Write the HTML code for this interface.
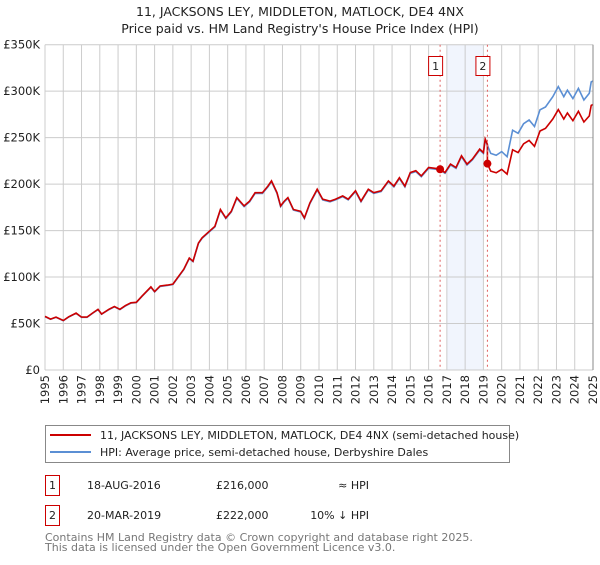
<!DOCTYPE html>
<html><head><meta charset="utf-8"><style>
body{margin:0;background:#fff;font-family:"Liberation Sans","DejaVu Sans",sans-serif;}
svg text{font-family:"DejaVu Sans","Liberation Sans",sans-serif;}
</style></head><body>
<svg id="chart" width="600" height="560" viewBox="0 0 600 560" xmlns="http://www.w3.org/2000/svg">
<text x="300" y="16" text-anchor="middle" font-size="12.5" fill="#222">11, JACKSONS LEY, MIDDLETON, MATLOCK, DE4 4NX</text>
<text x="300" y="33" text-anchor="middle" font-size="12.5" fill="#222">Price paid vs. HM Land Registry's House Price Index (HPI)</text>
<g id="grid"></g>
<g id="series"></g>
<g id="axes"></g>
<rect x="45.5" y="425.5" width="464" height="37" fill="#fff" stroke="#888"/>
<line x1="50" y1="435" x2="91" y2="435" stroke="#cc0000" stroke-width="2"/>
<text x="100" y="439" font-size="11" fill="#222">11, JACKSONS LEY, MIDDLETON, MATLOCK, DE4 4NX (semi-detached house)</text>
<line x1="50" y1="452" x2="91" y2="452" stroke="#5b8fd4" stroke-width="2"/>
<text x="100" y="456" font-size="11" fill="#222">HPI: Average price, semi-detached house, Derbyshire Dales</text>
<g>
<rect x="45.5" y="475.5" width="14" height="20" fill="#fff" stroke="#cc0000"/>
<text x="52.5" y="489" text-anchor="middle" font-size="11" fill="#222">1</text>
<text x="87" y="489" font-size="11" fill="#222">18-AUG-2016</text>
<text x="216" y="489" font-size="11" fill="#222">£216,000</text>
<text x="369" y="489" text-anchor="end" font-size="11" fill="#222">≈ HPI</text>
</g>
<g>
<rect x="45.5" y="505.5" width="14" height="20" fill="#fff" stroke="#cc0000"/>
<text x="52.5" y="519" text-anchor="middle" font-size="11" fill="#222">2</text>
<text x="87" y="519" font-size="11" fill="#222">20-MAR-2019</text>
<text x="216" y="519" font-size="11" fill="#222">£222,000</text>
<text x="369" y="519" text-anchor="end" font-size="11" fill="#222">10% ↓ HPI</text>
</g>
<text x="45" y="541" font-size="11" fill="#777">Contains HM Land Registry data © Crown copyright and database right 2025.</text>
<text x="45" y="551" font-size="11" fill="#777">This data is licensed under the Open Government Licence v3.0.</text>
</svg>
<script>
const hpiYears=[1995.0,1995.3,1995.6,1996.0,1996.3,1996.7,1997.0,1997.3,1997.6,1997.9,1998.1,1998.5,1998.8,1999.1,1999.4,1999.7,2000.0,2000.3,2000.8,2001.0,2001.3,2001.7,2002.0,2002.3,2002.6,2002.9,2003.1,2003.4,2003.6,2003.9,2004.3,2004.6,2004.9,2005.2,2005.5,2005.9,2006.2,2006.5,2006.9,2007.2,2007.4,2007.7,2007.9,2008.1,2008.3,2008.6,2009.0,2009.2,2009.5,2009.9,2010.2,2010.6,2010.9,2011.3,2011.6,2012.0,2012.3,2012.7,2013.0,2013.4,2013.8,2014.1,2014.4,2014.7,2015.0,2015.3,2015.6,2016.0,2016.6,2016.9,2017.2,2017.5,2017.8,2018.1,2018.4,2018.8,2019.0,2019.1,2019.4,2019.7,2020.0,2020.3,2020.6,2020.9,2021.2,2021.5,2021.8,2022.1,2022.4,2022.8,2023.1,2023.4,2023.6,2023.9,2024.2,2024.5,2024.8,2024.9,2025.0];
const hpiValues=[57400,54500,56700,53000,57000,61000,56700,56700,61000,65000,60000,65000,68000,65000,69000,72000,72500,79000,89000,84000,90000,91000,92000,100000,108000,120000,116600,136000,141700,147000,154000,172000,163000,170000,184700,175800,181000,190000,190000,197000,202600,190000,175800,181000,184700,172000,170000,163000,179000,193700,183000,181000,183000,186500,183000,192000,181000,193700,190000,192000,202600,197000,206000,197000,211600,213500,208000,217000,215500,211600,220600,217000,229500,220600,226000,236700,233000,247500,233000,231000,235000,229500,258000,254700,265000,269000,262000,280000,283000,294000,305000,294000,301000,292000,303000,290500,297700,310000,311000];
const saleYears=[2016.63,2019.22];
const salePrices=[216000,222000];
const yTicks=[0,50000,100000,150000,200000,250000,300000,350000];
const yTickLabels=["£0","£50K","£100K","£150K","£200K","£250K","£300K","£350K"];
const xTicks=[1995,1996,1997,1998,1999,2000,2001,2002,2003,2004,2005,2006,2007,2008,2009,2010,2011,2012,2013,2014,2015,2016,2017,2018,2019,2020,2021,2022,2023,2024,2025];

const NS="http://www.w3.org/2000/svg";
const X0=45,X1=593,Y0=370,Y1=44.7;
const xs=t=>X0+(t-1995)/30*(X1-X0);
const ys=v=>Y0-v/350000*(Y0-Y1);
function mk(tag,attrs,parent){const e=document.createElementNS(NS,tag);for(const k in attrs)e.setAttribute(k,attrs[k]);parent.appendChild(e);return e;}
const grid=document.getElementById('grid'),series=document.getElementById('series'),axes=document.getElementById('axes');
const band=mk('rect',{x:xs(2017),y:Y1,width:xs(2019)-xs(2017),height:Y0-Y1,fill:'#eef3fd',opacity:0.8},grid);


yTicks.forEach((v,i)=>{
 const l=mk('line',{x1:X0,x2:X1,y1:ys(v),y2:ys(v),stroke:'#cccccc','stroke-width':1},grid);
 
 
 const t=mk('text',{x:40,y:ys(v)+4,'text-anchor':'end','font-size':11.5,fill:'#222'},axes);
 t.textContent=yTickLabels[i];
 
 
});
xTicks.forEach(yr=>{
 const l=mk('line',{x1:xs(yr),x2:xs(yr),y1:Y1,y2:Y0,stroke:'#cccccc','stroke-width':1},grid);
 
 
 const t=mk('text',{x:0,y:0,'text-anchor':'end','font-size':11.5,fill:'#222',transform:`translate(${xs(yr)+4},375) rotate(-90)`},axes);
 t.textContent=yr;
 
 
});
const rAx=mk('line',{x1:X1,x2:X1,y1:Y1,y2:Y0,stroke:'#888','stroke-width':1},axes);


const hp=hpiYears.map((t,i)=>`${i?'L':'M'}${xs(t).toFixed(1)},${ys(hpiValues[i]).toFixed(1)}`).join('');
const hl=mk('path',{d:hp,fill:'none',stroke:'#5b8fd4','stroke-width':1.6},series);


function hpiAt(t){for(let i=1;i<hpiYears.length;i++){if(t<=hpiYears[i]){const f=(t-hpiYears[i-1])/(hpiYears[i]-hpiYears[i-1]);return hpiValues[i-1]+f*(hpiValues[i]-hpiValues[i-1]);}}return hpiValues[hpiValues.length-1];}
const ratios=saleYears.map((t,i)=>salePrices[i]/hpiAt(t));
function ratioAt(t){let r=ratios[0];saleYears.forEach((s,i)=>{if(t>=s)r=ratios[i];});return r;}
const pts=[];
hpiYears.forEach((t,i)=>{
 saleYears.forEach((s,j)=>{if(s>(i?hpiYears[i-1]:0)&&s<=t){pts.push([s,hpiAt(s)*(j?ratios[j-1]:ratios[0])]);pts.push([s,salePrices[j]]);}});
 pts.push([t,hpiValues[i]*ratioAt(t)]);
});
const rp=pts.map((p,i)=>`${i?'L':'M'}${xs(p[0]).toFixed(1)},${ys(p[1]).toFixed(1)}`).join('');
const rl=mk('path',{d:rp,fill:'none',stroke:'#cc0000','stroke-width':1.6},series);


saleYears.forEach((t,i)=>{
 const v=mk('line',{x1:xs(t),x2:xs(t),y1:Y1,y2:Y0,stroke:'#e06060','stroke-width':1,'stroke-dasharray':'2,3'},series);
 
 
 const d=mk('circle',{cx:xs(t),cy:ys(salePrices[i]),r:4,fill:'#cc0000'},series);
 
 
 const g=mk('g',{},series);
 
 
 mk('rect',{x:xs(t)-11.5,y:56.5,width:14,height:19,fill:'#fff',stroke:'#cc0000'},g);
 const tx=mk('text',{x:xs(t)-4.5,y:70,'text-anchor':'middle','font-size':11,fill:'#222'},g);
 tx.textContent=String(i+1);
});
</script>
</body></html>
